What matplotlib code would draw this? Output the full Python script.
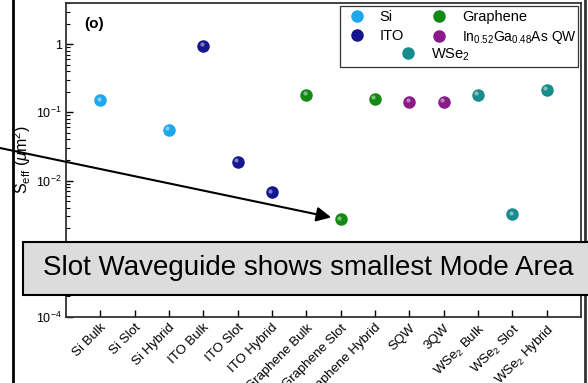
import numpy as np
import matplotlib.pyplot as plt
from matplotlib.lines import Line2D
from matplotlib.patches import Rectangle
from matplotlib.transforms import ScaledTranslation
from matplotlib.ticker import LogLocator, FixedLocator, FixedFormatter, NullFormatter

plt.rcParams['font.family'] = ['Liberation Sans', 'DejaVu Sans']
plt.rcParams['mathtext.fontset'] = 'custom'
plt.rcParams['mathtext.rm'] = 'Liberation Sans'
plt.rcParams['mathtext.it'] = 'Liberation Sans:italic'

# waveguide configurations along the x axis
categories = ['Si Bulk', 'Si Slot', 'Si Hybrid', 'ITO Bulk', 'ITO Slot', 'ITO Hybrid',
              'Graphene Bulk', 'Graphene Slot', 'Graphene Hybrid', 'SQW', '3QW',
              'WSe$_2$ Bulk', 'WSe$_2$ Slot', 'WSe$_2$ Hybrid']

# effective mode area (um^2) per material
si_area = {'Si Bulk': 0.15, 'Si Hybrid': 0.055}
ito_area = {'ITO Bulk': 0.95, 'ITO Slot': 0.019, 'ITO Hybrid': 0.0067}
graphene_area = {'Graphene Bulk': 0.18, 'Graphene Slot': 0.0027, 'Graphene Hybrid': 0.158}
qw_area = {'SQW': 0.144, '3QW': 0.144}
wse2_area = {'WSe$_2$ Bulk': 0.18, 'WSe$_2$ Slot': 0.0032, 'WSe$_2$ Hybrid': 0.215}

series = [
    ('Si', si_area, '#1ea7ec'),
    ('ITO', ito_area, '#15158f'),
    ('Graphene', graphene_area, '#138a13'),
    ('In$_{0.52}$Ga$_{0.48}$As QW', qw_area, '#8a1a8a'),
    ('WSe$_2$', wse2_area, '#178c8c'),
]

yticks = [1e-4, 1e-3, 1e-2, 1e-1, 1]
ytick_labels = ['10$^{-4}$', '10$^{-3}$', '10$^{-2}$', '10$^{-1}$', '1']

fig = plt.figure(figsize=(5.88, 3.83), dpi=100)
ax = fig.add_axes([66 / 588, 1 - 317 / 383, 515 / 588, 314 / 383])

xpos = {c: i for i, c in enumerate(categories)}
handles = {}
shine = ax.transData + ScaledTranslation(-1.2 / 72, 1.2 / 72, fig.dpi_scale_trans)
for name, data, color in series:
    xs = [xpos[k] for k in data]
    ys = list(data.values())
    h, = ax.plot(xs, ys, 'o', ms=8, color=color, mec=color, lw=0, zorder=3)
    # small highlight to give the dots a glossy look
    ax.plot(xs, ys, 'o', ms=3, color='white', alpha=0.45, mec='none',
            transform=shine, zorder=4)
    handles[name] = h

ax.set_yscale('log')
ax.set_ylim(1e-4, 4)
ax.set_xlim(-1, len(categories))
ax.set_xticks(range(len(categories)))
ax.set_xticklabels(categories, rotation=45, ha='right', rotation_mode='anchor', fontsize=9.5)
shift = ScaledTranslation(11 / 72, -4 / 72, fig.dpi_scale_trans)
for lbl in ax.get_xticklabels():
    lbl.set_transform(lbl.get_transform() + shift)
ax.yaxis.set_major_locator(FixedLocator(yticks))
ax.yaxis.set_major_formatter(FixedFormatter(ytick_labels))
ax.yaxis.set_minor_locator(LogLocator(base=10, subs=np.arange(2, 10)))
ax.yaxis.set_minor_formatter(NullFormatter())
ax.tick_params(axis='both', which='both', direction='in', top=False, right=False)
ax.tick_params(axis='both', which='major', length=5, width=1)
ax.tick_params(axis='y', which='minor', length=3, width=0.8)
ax.tick_params(axis='y', labelsize=9, pad=3)
for s in ax.spines.values():
    s.set_linewidth(1.3)
    s.set_color('#333333')

ax.set_ylabel('S$_{\\mathrm{eff}}$ ($\\mu$m$^2$)', fontsize=11.5, labelpad=2)
ax.text(0.036, 0.92, '(o)', transform=ax.transAxes, fontsize=11, fontweight='bold')

# legend: two rows of pairs, WSe2 centred underneath, one shared frame
names = [s[0] for s in series]
leg1 = ax.legend([handles[n] for n in names[:4]], names[:4], ncol=2, frameon=False,
                 loc='upper left', bbox_to_anchor=(0.542, 0.986), fontsize=10.5,
                 handletextpad=0.98, columnspacing=1.8, labelspacing=0.3,
                 handlelength=1.2, borderpad=0.2, borderaxespad=0)
leg1.get_texts()[3].set_fontsize(10)
ax.add_artist(leg1)
ax.legend([handles[names[4]]], [names[4]], frameon=False, loc='upper left',
          bbox_to_anchor=(0.642, 0.872), fontsize=10.5, handletextpad=0.98,
          handlelength=1.2, borderpad=0.2, borderaxespad=0)
ax.add_patch(Rectangle((0.532, 0.796), 0.462, 0.194, transform=ax.transAxes,
                       fill=False, ec='#333333', lw=0.9, zorder=5))

# annotation arrow pointing at the graphene slot point
ax.annotate('', xy=(xpos['Graphene Slot'], graphene_area['Graphene Slot']),
            xycoords='data', xytext=(0.0, 1 - 148 / 383), textcoords='figure fraction',
            arrowprops=dict(arrowstyle='-|>', lw=1.5, color='black',
                            mutation_scale=22, shrinkA=0, shrinkB=7),
            annotation_clip=False, zorder=6)

# caption box
fig.add_artist(Rectangle((23 / 588, 1 - 295 / 383), 0.99, 53 / 383,
                         transform=fig.transFigure, fc='#dcdcdc', ec='black', lw=1.5,
                         zorder=7))
fig.text(43 / 588, 1 - 268 / 383, 'Slot Waveguide shows smallest Mode Area',
         fontsize=20, va='center', ha='left', zorder=8)

# frame lines on either side of the slide
fig.add_artist(Line2D([13 / 588, 13 / 588], [0, 1], color='black', lw=2))
fig.add_artist(Line2D([585 / 588, 585 / 588], [0, 1], color='#333333', lw=2))

fig.savefig('out.png', dpi=100)
